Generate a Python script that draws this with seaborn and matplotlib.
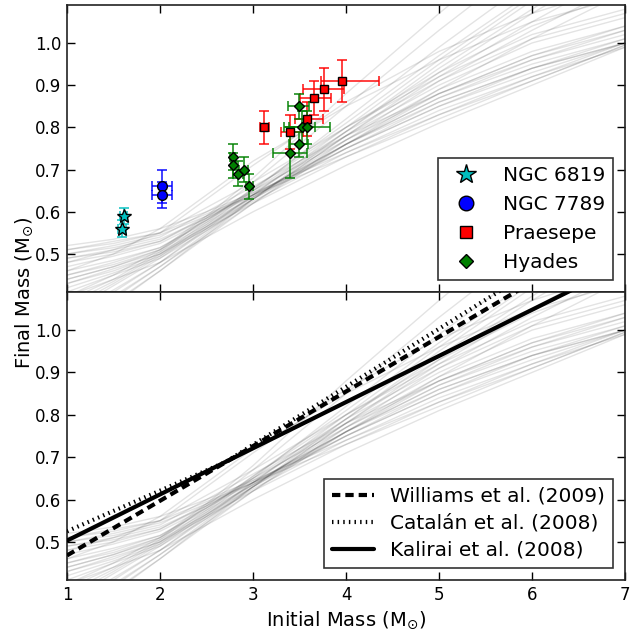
import numpy as np
import pandas as pd
import matplotlib
matplotlib.use("Agg")
import matplotlib.pyplot as plt
import seaborn as sns

# ---------------- data ----------------
model_x = [1.0, 1.5, 2.0, 2.5, 3.0, 4.0, 5.0, 6.0, 7.0]
model_curves = [
    [0.52, 0.535, 0.56, 0.60, 0.645, 0.74, 0.83, 0.92, 1.00],
    [0.51, 0.53, 0.55, 0.595, 0.64, 0.73, 0.82, 0.91, 0.995],
    [0.50, 0.52, 0.545, 0.59, 0.64, 0.75, 0.85, 0.94, 1.01],
    [0.49, 0.51, 0.535, 0.585, 0.64, 0.76, 0.87, 0.96, 1.03],
    [0.50, 0.515, 0.54, 0.60, 0.66, 0.78, 0.88, 0.96, 1.02],
    [0.48, 0.50, 0.53, 0.59, 0.65, 0.77, 0.88, 0.97, 1.04],
    [0.47, 0.495, 0.525, 0.58, 0.64, 0.76, 0.86, 0.94, 1.00],
    [0.51, 0.525, 0.55, 0.61, 0.67, 0.80, 0.92, 1.02, 1.08],
    [0.49, 0.505, 0.53, 0.585, 0.645, 0.78, 0.90, 1.00, 1.06],
    [0.46, 0.485, 0.515, 0.575, 0.635, 0.75, 0.85, 0.93, 1.00],
    [0.45, 0.475, 0.51, 0.57, 0.635, 0.76, 0.87, 0.95, 1.01],
    [0.44, 0.47, 0.505, 0.565, 0.63, 0.75, 0.86, 0.94, 1.00],
    [0.43, 0.465, 0.50, 0.565, 0.635, 0.77, 0.89, 0.98, 1.04],
    [0.42, 0.455, 0.495, 0.56, 0.63, 0.76, 0.88, 0.97, 1.03],
    [0.45, 0.48, 0.515, 0.58, 0.65, 0.79, 0.91, 1.01, 1.07],
    [0.41, 0.45, 0.49, 0.555, 0.625, 0.74, 0.84, 0.92, 0.99],
    [0.44, 0.47, 0.51, 0.58, 0.655, 0.80, 0.93, 1.04, 1.12],
    [0.33, 0.40, 0.47, 0.545, 0.62, 0.76, 0.89, 1.01, 1.12],
    [0.32, 0.395, 0.47, 0.55, 0.63, 0.78, 0.92, 1.05, 1.17],
    [0.35, 0.415, 0.48, 0.555, 0.63, 0.78, 0.93, 1.07, 1.20],
    [0.34, 0.41, 0.48, 0.56, 0.64, 0.80, 0.96, 1.11, 1.25],
    [0.36, 0.425, 0.49, 0.565, 0.64, 0.79, 0.94, 1.08, 1.22],
    [0.31, 0.385, 0.46, 0.54, 0.62, 0.77, 0.91, 1.03, 1.14],
    [0.37, 0.43, 0.495, 0.57, 0.65, 0.82, 0.99, 1.15, 1.30],
    [0.38, 0.435, 0.50, 0.575, 0.655, 0.81, 0.97, 1.12, 1.27],
    [0.30, 0.38, 0.46, 0.545, 0.63, 0.79, 0.95, 1.10, 1.24],
    [0.39, 0.44, 0.505, 0.585, 0.67, 0.85, 1.03, 1.20, 1.35],
    [0.40, 0.45, 0.51, 0.59, 0.68, 0.88, 1.07, 1.25, 1.40],
    [0.40, 0.44, 0.48, 0.54, 0.60, 0.71, 0.81, 0.90, 0.99],
    [0.48, 0.51, 0.55, 0.63, 0.71, 0.86, 0.98, 1.07, 1.14],
    [0.46, 0.50, 0.56, 0.64, 0.72, 0.85, 0.96, 1.05, 1.11],
    [0.43, 0.46, 0.50, 0.56, 0.62, 0.73, 0.83, 0.91, 0.995],
]

# clusters
n6819_x = [1.61, 1.59]
n6819_y = [0.59, 0.56]
n6819_xerr = [0.04, 0.04]
n6819_yerr = [0.02, 0.02]

n7789_x = [2.02, 2.02]
n7789_y = [0.66, 0.64]
n7789_xerr = [0.11, 0.11]
n7789_yerr = [0.04, 0.03]

praesepe_x = [3.12, 3.40, 3.58, 3.66, 3.76, 3.96]
praesepe_y = [0.80, 0.79, 0.82, 0.87, 0.89, 0.91]
praesepe_xerr_lo = [0.05, 0.10, 0.13, 0.16, 0.22, 0.23]
praesepe_xerr_hi = [0.05, 0.14, 0.17, 0.18, 0.22, 0.39]
praesepe_yerr = [0.04, 0.04, 0.04, 0.04, 0.05, 0.05]

hyades_x = [2.78, 2.79, 2.84, 2.90, 2.96, 3.40, 3.49, 3.49, 3.53, 3.58]
hyades_y = [0.73, 0.71, 0.69, 0.70, 0.66, 0.74, 0.76, 0.85, 0.80, 0.80]
hyades_xerr = [0.03, 0.03, 0.05, 0.05, 0.04, 0.18, 0.10, 0.11, 0.14, 0.25]
hyades_yerr = [0.03, 0.03, 0.03, 0.03, 0.03, 0.06, 0.03, 0.03, 0.04, 0.04]

# published relations (straight segments)
williams_x = [1.0, 7.0]
williams_y = [0.468, 1.242]
catalan_x = [1.0, 2.7, 7.0]
catalan_y = [0.525, 0.688, 1.277]
kalirai_x = [1.0, 7.0]
kalirai_y = [0.503, 1.157]

yticks = [0.5, 0.6, 0.7, 0.8, 0.9, 1.0]
xticks = [1, 2, 3, 4, 5, 6, 7]

# ---------------- style ----------------
sns.set_style("ticks", {"xtick.direction": "in", "ytick.direction": "in",
                        "axes.edgecolor": "black", "text.color": "black",
                        "axes.labelcolor": "black", "xtick.color": "black",
                        "ytick.color": "black"})
plt.rcParams["font.family"] = ["DejaVu Sans"]
plt.rcParams["mathtext.fontset"] = "dejavusans"

W, H = 631, 630
fig = plt.figure(figsize=(W / 100, H / 100), dpi=100)
left, right = 67 / W, 625 / W
ax1 = fig.add_axes([left, 1 - 292 / H, right - left, (292 - 5) / H])
ax2 = fig.add_axes([left, 1 - 580 / H, right - left, (580 - 292) / H])

rows = []
for i, c in enumerate(model_curves):
    for xv, yv in zip(model_x, c):
        rows.append((i, xv, yv))
models = pd.DataFrame(rows, columns=["curve", "x", "y"])

for ax in (ax1, ax2):
    sns.lineplot(data=models, x="x", y="y", units="curve", estimator=None,
                 color="k", alpha=0.11, lw=1.0, ax=ax, legend=False, zorder=1)

# error bars
eb = dict(fmt="none", elinewidth=1.4, capsize=3.5, capthick=1.4, alpha=0.75, zorder=3)
ax1.errorbar(n6819_x, n6819_y, xerr=n6819_xerr, yerr=n6819_yerr, ecolor="c", **eb)
ax1.errorbar(n7789_x, n7789_y, xerr=n7789_xerr, yerr=n7789_yerr, ecolor="b", **eb)
ax1.errorbar(praesepe_x, praesepe_y, xerr=[praesepe_xerr_lo, praesepe_xerr_hi],
             yerr=praesepe_yerr, ecolor="r", **eb)
ax1.errorbar(hyades_x, hyades_y, xerr=hyades_xerr, yerr=hyades_yerr, ecolor="g", **eb)

mk = dict(ls="none", markeredgecolor="k", markeredgewidth=1.0, zorder=4)
ax1.plot(n6819_x, n6819_y, marker="*", ms=10, color="c", label="NGC 6819", **mk)
ax1.plot(n7789_x, n7789_y, marker="o", ms=7, color="b", label="NGC 7789", **mk)
ax1.plot(praesepe_x, praesepe_y, marker="s", ms=6, color="r", label="Praesepe", **mk)
ax1.plot(hyades_x, hyades_y, marker="D", ms=5, color="g", label="Hyades", **mk)

sns.lineplot(x=williams_x, y=williams_y, ax=ax2, color="k", lw=3,
             dashes=False, label="Williams et al. (2009)", zorder=5)
sns.lineplot(x=catalan_x, y=catalan_y, ax=ax2, color="k", lw=3,
             dashes=False, label="Catalán et al. (2008)", zorder=5)
sns.lineplot(x=kalirai_x, y=kalirai_y, ax=ax2, color="k", lw=3,
             dashes=False, label="Kalirai et al. (2008)", zorder=5)
lines = ax2.get_lines()[-3:]
lines[0].set_dashes((2.0, 1.2))
lines[0].set_dash_capstyle("butt")
lines[1].set_dashes((0.35, 1.0))
lines[1].set_dash_capstyle("butt")

for ax in (ax1, ax2):
    ax.set_xlim(1, 7)
    ax.set_ylim(0.41, 1.09)
    ax.set_xticks(xticks)
    ax.set_yticks(yticks)
    ax.tick_params(axis="both", which="both", direction="in", top=True, right=True,
                   length=6, width=1, labelsize=12, pad=4, color="black",
                   labelcolor="black")
    ax.set_xlabel("")
    ax.set_ylabel("")
    for s in ax.spines.values():
        s.set_linewidth(1.2)
        s.set_visible(True)
        s.set_color("#222222")
ax1.tick_params(labelbottom=False)

leg1 = ax1.legend(loc="lower right", fontsize=14.5, markerscale=1.5, frameon=True,
                  fancybox=False, edgecolor="k", borderaxespad=0.6,
                  labelspacing=0.5, handletextpad=0.8, numpoints=1)
leg1.get_frame().set_linewidth(1.2)
leg2 = ax2.legend(loc="lower right", fontsize=14.5, frameon=True, fancybox=False,
                  edgecolor="k", borderaxespad=0.6, labelspacing=0.4,
                  handlelength=2.1, handletextpad=0.8)
leg2.get_frame().set_linewidth(1.2)

ax2.set_xlabel(r"Initial Mass (M$_{\odot}$)", fontsize=14, labelpad=4, color="black")
fig.text(0.038, 1 - 292.5 / H, r"Final Mass (M$_{\odot}$)", rotation=90,
         fontsize=14, ha="center", va="center", color="black")

fig.savefig("out.png", dpi=100)
